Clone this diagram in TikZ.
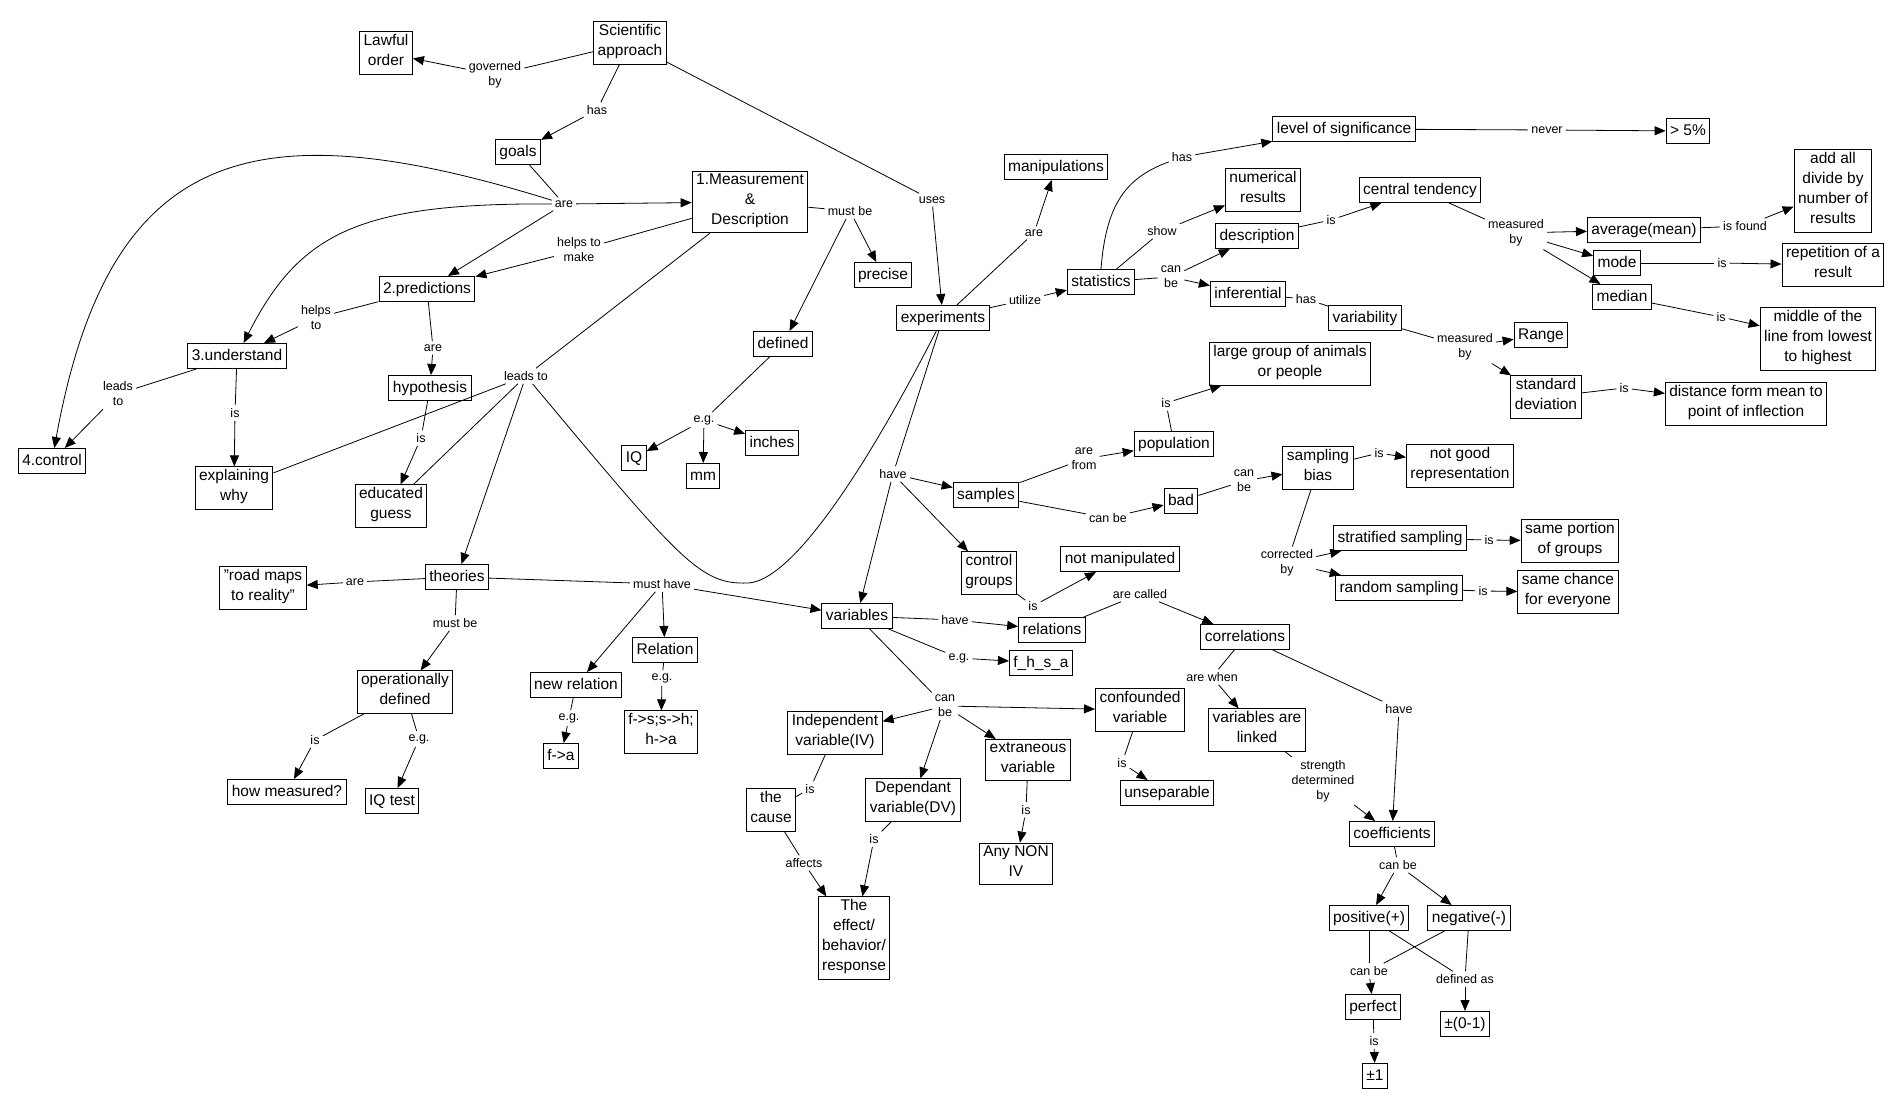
\documentclass[tikz,border=0pt]{standalone}
\usepackage{fontspec}
\setmainfont{Liberation Sans}
\usepackage{tikz}
\usetikzlibrary{arrows.meta}

\newcommand{\conceptfont}{\fontsize{15.5}{20}\selectfont}
\newcommand{\linkfont}{\fontsize{12.5}{15}\selectfont}

\begin{document}
\begin{tikzpicture}[
    x=1pt, y=-1pt,
    concept/.style={rectangle, draw, line width=1pt, align=center, font=\conceptfont, inner xsep=4pt, inner ysep=2.5pt, execute at begin node=\strut, execute at end node=\strut},
    link/.style={align=center, font=\linkfont, inner sep=3pt},
    line/.style={draw, line width=0.8pt},
    arrow/.style={draw, line width=0.8pt, -{Triangle[length=11pt,width=9pt]}}
]
    \fill [white] (0,0) rectangle (1899,1108);
    \useasboundingbox (0,0) rectangle (1899,1108);

    % --- Goals side ---
    \node [concept] (sci_approach) at (630,43) {Scientific\\approach};
    \node [concept] (lawful_order) at (386,53) {Lawful\\order};
    \node [concept] (goals) at (518,152) {goals};
    \node [concept] (measurement) at (750,202) {1.Measurement\\\&\\Description};
    \node [concept] (predictions) at (427,289) {2.predictions};
    \node [concept] (understand) at (237,356) {3.understand};
    \node [concept] (control) at (52,461) {4.control};
    \node [concept] (hypothesis) at (430,388) {hypothesis};
    \node [concept] (explaining) at (234,488) {explaining\\why};
    \node [concept] (educated_guess) at (391,506) {educated\\guess};
    \node [concept] (precise) at (883,275) {precise};
    \node [concept] (defined) at (783,344) {defined};
    \node [concept] (iq) at (634,458) {IQ};
    \node [concept] (mm) at (703,476) {mm};
    \node [concept] (inches) at (772,443) {inches};

    % --- Theories ---
    \node [concept] (theories) at (457,577) {theories};
    \node [concept] (road_maps) at (263,588) {"road maps\\to reality"};
    \node [concept] (op_defined) at (405,692) {operationally\\defined};
    \node [concept] (how_measured) at (287,792) {how measured?};
    \node [concept] (iq_test) at (392,801) {IQ test};
    \node [concept] (new_relation) at (576,685) {new relation};
    \node [concept] (relation) at (665,650) {Relation};
    \node [concept] (f_a) at (561,756) {f->a};
    \node [concept] (f_s_h_a) at (661,732) {f->s;s->h;\\h->a};

    % --- Experiments and statistics ---
    \node [concept] (experiments) at (943,318) {experiments};
    \node [concept] (manipulations) at (1056,167) {manipulations};
    \node [concept] (statistics) at (1101,282) {statistics};
    \node [concept] (level_sig) at (1344,129) {level of significance};
    \node [concept] (five_pct) at (1688,131) {> 5\%};
    \node [concept] (numerical) at (1263,190) {numerical\\results};
    \node [concept] (description) at (1257,236) {description};
    \node [concept] (central_tend) at (1420,190) {central tendency};
    \node [concept] (inferential) at (1248,294) {inferential};
    \node [concept] (variability) at (1365,318) {variability};
    \node [concept] (average) at (1644,230) {average(mean)};
    \node [concept] (add_all) at (1833,191) {add all\\divide by\\number of\\results};
    \node [concept] (mode) at (1617,263) {mode};
    \node [concept] (repetition) at (1833,265) {repetition of a\\result};
    \node [concept] (median) at (1622,297) {median};
    \node [concept] (middle) at (1818,339) {middle of the\\line from lowest\\to highest};
    \node [concept] (range) at (1541,335) {Range};
    \node [concept] (std_dev) at (1546,397) {standard\\deviation};
    \node [concept] (distance) at (1746,404) {distance form mean to\\point of inflection};

    % --- Samples ---
    \node [concept] (large_group) at (1290,364) {large group of animals\\or people};
    \node [concept] (population) at (1174,444) {population};
    \node [concept] (samples) at (986,495) {samples};
    \node [concept] (bad) at (1181,501) {bad};
    \node [concept] (sampling_bias) at (1318,468) {sampling\\bias};
    \node [concept] (not_good) at (1460,466) {not good\\representation};
    \node [concept] (stratified) at (1400,538) {stratified sampling};
    \node [concept] (random_s) at (1399,588) {random sampling};
    \node [concept] (same_portion) at (1570,541) {same portion\\of groups};
    \node [concept] (same_chance) at (1568,592) {same chance\\for everyone};
    \node [concept] (control_groups) at (989,573) {control\\groups};
    \node [concept] (not_manip) at (1120,559) {not manipulated};

    % --- Variables ---
    \node [concept] (variables) at (857,616) {variables};
    \node [concept] (relations) at (1052,630) {relations};
    \node [concept] (correlations) at (1245,637) {correlations};
    \node [concept] (f_h_s_a) at (1041,663) {f\_h\_s\_a};
    \node [concept] (indep_var) at (835,733) {Independent\\variable(IV)};
    \node [concept] (dep_var) at (913,800) {Dependant\\variable(DV)};
    \node [concept] (the_cause) at (771,810) {the\\cause};
    \node [concept] (effect) at (854,938) {The\\effect/\\behavior/\\response};
    \node [concept] (confounded) at (1140,710) {confounded\\variable};
    \node [concept] (unseparable) at (1167,793) {unseparable};
    \node [concept] (extraneous) at (1028,760) {extraneous\\variable};
    \node [concept] (any_non_iv) at (1016,864) {Any NON\\IV};
    \node [concept] (vars_linked) at (1257,730) {variables are\\linked};
    \node [concept] (coefficients) at (1392,834) {coefficients};
    \node [concept] (positive) at (1369,918) {positive(+)};
    \node [concept] (negative) at (1469,918) {negative(-)};
    \node [concept] (perfect) at (1373,1007) {perfect};
    \node [concept] (plus_minus_one) at (1375,1076) {±1};
    \node [concept] (plus_minus_range) at (1465,1024) {±(0-1)};

    % --- Linking phrases ---
    \node [link] (governed_by) at (495,75) {governed\\by};
    \node [link] (has_goals) at (597,110) {has};
    \node [link] (uses) at (932,200) {uses};
    \node [link] (are_goals) at (564,204) {are};
    \node [link] (helps_make) at (579,250) {helps to\\make};
    \node [link] (must_be_meas) at (850,211) {must be};
    \node [link] (helps_to) at (316,318) {helps\\to};
    \node [link] (are_pred) at (433,348) {are};
    \node [link] (leads_to_ctrl) at (118,394) {leads\\to};
    \node [link] (is_underst) at (235,413) {is};
    \node [link] (is_hyp) at (421,438) {is};
    \node [link] (leads_to) at (526,376) {leads to};
    \node [link] (eg_defined) at (704,420) {e.g.};
    \node [link] (are_theories) at (355,582) {are};
    \node [link] (must_be_th) at (455,623) {must be};
    \node [link] (must_have) at (662,584) {must have};
    \node [link] (is_op) at (315,740) {is};
    \node [link] (eg_op) at (419,739) {e.g.};
    \node [link] (eg_newrel) at (569,718) {e.g.};
    \node [link] (eg_rel) at (662,678) {e.g.};
    \node [link] (have_exp) at (893,474) {have};
    \node [link] (are_exp) at (1034,233) {are};
    \node [link] (utilize) at (1025,300) {utilize};
    \node [link] (has_stat) at (1182,157) {has};
    \node [link] (show) at (1162,231) {show};
    \node [link] (can_be_stat) at (1171,277) {can\\be};
    \node [link] (never) at (1547,130) {never};
    \node [link] (is_desc) at (1331,220) {is};
    \node [link] (measured_ct) at (1516,233) {measured\\by};
    \node [link] (is_found) at (1745,226) {is found};
    \node [link] (is_mode) at (1722,263) {is};
    \node [link] (is_median) at (1721,317) {is};
    \node [link] (has_inf) at (1306,299) {has};
    \node [link] (measured_var) at (1465,347) {measured\\by};
    \node [link] (is_std) at (1624,388) {is};
    \node [link] (is_pop) at (1166,403) {is};
    \node [link] (are_from) at (1084,459) {are\\from};
    \node [link] (can_be_samp) at (1108,518) {can be};
    \node [link] (can_be_bad) at (1244,481) {can\\be};
    \node [link] (is_bias) at (1379,453) {is};
    \node [link] (corrected_by) at (1287,563) {corrected\\by};
    \node [link] (is_strat) at (1489,540) {is};
    \node [link] (is_random) at (1483,591) {is};
    \node [link] (is_ctrl) at (1033,606) {is};
    \node [link] (have_var) at (955,620) {have};
    \node [link] (are_called) at (1140,594) {are called};
    \node [link] (eg_var) at (959,658) {e.g.};
    \node [link] (can_be_var) at (945,706) {can\\be};
    \node [link] (are_when) at (1212,677) {are when};
    \node [link] (have_corr) at (1399,709) {have};
    \node [link] (strength) at (1323,781) {strength\\determined\\by};
    \node [link] (is_iv) at (810,789) {is};
    \node [link] (is_dv) at (874,839) {is};
    \node [link] (affects) at (804,863) {affects};
    \node [link] (is_extr) at (1026,810) {is};
    \node [link] (is_conf) at (1122,763) {is};
    \node [link] (can_be_coef) at (1398,865) {can be};
    \node [link] (can_be_pos) at (1369,971) {can be};
    \node [link] (defined_as) at (1465,979) {defined as};
    \node [link] (is_perfect) at (1374,1041) {is};

    % Paths: scientific approach and goals
    \path [line] (sci_approach) -- (governed_by);
    \path [arrow] (governed_by) -- (lawful_order);
    \path [line] (sci_approach) -- (has_goals);
    \path [arrow] (has_goals) -- (goals);
    \path [line] (sci_approach) -- (uses);
    \path [arrow] (uses) -- (experiments);
    \path [line] (goals) -- (are_goals);
    \path [arrow] (are_goals) -- (measurement);
    \path [arrow] (are_goals) -- (predictions);
    \path [arrow] (are_goals) .. controls (360,203) and (300,232) .. (understand);
    \path [arrow] (are_goals) .. controls (260,110) and (110,140) .. (control);
    \path [line] (measurement) -- (helps_make);
    \path [arrow] (helps_make) -- (predictions);
    \path [line] (measurement) -- (must_be_meas);
    \path [arrow] (must_be_meas) -- (precise);
    \path [arrow] (must_be_meas) -- (defined);
    \path [line] (defined) -- (eg_defined);
    \path [arrow] (eg_defined) -- (iq);
    \path [arrow] (eg_defined) -- (mm);
    \path [arrow] (eg_defined) -- (inches);
    \path [line] (measurement) -- (leads_to);
    \path [line] (leads_to) -- (explaining);
    \path [line] (leads_to) -- (educated_guess);
    \path [arrow] (leads_to) -- (theories);
    \path [line] (leads_to) .. controls (680,560) and (700,585) .. (748,583) .. controls (790,581) and (860,480) .. (experiments);
    \path [line] (predictions) -- (helps_to);
    \path [arrow] (helps_to) -- (understand);
    \path [line] (predictions) -- (are_pred);
    \path [arrow] (are_pred) -- (hypothesis);
    \path [line] (understand) -- (leads_to_ctrl);
    \path [arrow] (leads_to_ctrl) -- (control);
    \path [line] (understand) -- (is_underst);
    \path [arrow] (is_underst) -- (explaining);
    \path [line] (hypothesis) -- (is_hyp);
    \path [arrow] (is_hyp) -- (educated_guess);

    % Paths: theories
    \path [line] (theories) -- (are_theories);
    \path [arrow] (are_theories) -- (road_maps);
    \path [line] (theories) -- (must_be_th);
    \path [arrow] (must_be_th) -- (op_defined);
    \path [line] (theories) -- (must_have);
    \path [arrow] (must_have) -- (variables);
    \path [arrow] (must_have) -- (relation);
    \path [arrow] (must_have) -- (new_relation);
    \path [line] (op_defined) -- (is_op);
    \path [arrow] (is_op) -- (how_measured);
    \path [line] (op_defined) -- (eg_op);
    \path [arrow] (eg_op) -- (iq_test);
    \path [line] (new_relation) -- (eg_newrel);
    \path [arrow] (eg_newrel) -- (f_a);
    \path [line] (relation) -- (eg_rel);
    \path [arrow] (eg_rel) -- (f_s_h_a);

    % Paths: experiments and statistics
    \path [line] (experiments) -- (are_exp);
    \path [arrow] (are_exp) -- (manipulations);
    \path [line] (experiments) -- (utilize);
    \path [arrow] (utilize) -- (statistics);
    \path [line] (experiments) -- (have_exp);
    \path [arrow] (have_exp) -- (samples);
    \path [arrow] (have_exp) -- (control_groups);
    \path [arrow] (have_exp) -- (variables);
    \path [line] (statistics.north) .. controls (1106,205) and (1125,178) .. (has_stat);
    \path [arrow] (has_stat) -- (level_sig);
    \path [line] (level_sig) -- (never);
    \path [arrow] (never) -- (five_pct);
    \path [line] (statistics) -- (show);
    \path [arrow] (show) -- (numerical);
    \path [line] (statistics) -- (can_be_stat);
    \path [arrow] (can_be_stat) -- (description);
    \path [arrow] (can_be_stat) -- (inferential);
    \path [line] (description) -- (is_desc);
    \path [arrow] (is_desc) -- (central_tend);
    \path [line] (central_tend) -- (measured_ct);
    \path [arrow] (measured_ct) -- (average);
    \path [arrow] (measured_ct) -- (mode);
    \path [arrow] (measured_ct) -- (median);
    \path [line] (average) -- (is_found);
    \path [arrow] (is_found) -- (add_all);
    \path [line] (mode) -- (is_mode);
    \path [arrow] (is_mode) -- (repetition);
    \path [line] (median) -- (is_median);
    \path [arrow] (is_median) -- (middle);
    \path [line] (inferential) -- (has_inf);
    \path [line] (has_inf) -- (variability);
    \path [line] (variability) -- (measured_var);
    \path [arrow] (measured_var) -- (range);
    \path [arrow] (measured_var) -- (std_dev);
    \path [line] (std_dev) -- (is_std);
    \path [arrow] (is_std) -- (distance);

    % Paths: samples
    \path [line] (samples) -- (are_from);
    \path [arrow] (are_from) -- (population);
    \path [line] (population) -- (is_pop);
    \path [arrow] (is_pop) -- (large_group);
    \path [line] (samples) -- (can_be_samp);
    \path [arrow] (can_be_samp) -- (bad);
    \path [line] (bad) -- (can_be_bad);
    \path [arrow] (can_be_bad) -- (sampling_bias);
    \path [line] (sampling_bias) -- (is_bias);
    \path [arrow] (is_bias) -- (not_good);
    \path [line] (sampling_bias) -- (corrected_by);
    \path [arrow] (corrected_by) -- (stratified);
    \path [arrow] (corrected_by) -- (random_s);
    \path [line] (stratified) -- (is_strat);
    \path [arrow] (is_strat) -- (same_portion);
    \path [line] (random_s) -- (is_random);
    \path [arrow] (is_random) -- (same_chance);

    % Paths: variables
    \path [line] (control_groups) -- (is_ctrl);
    \path [arrow] (is_ctrl) -- (not_manip);
    \path [line] (variables) -- (have_var);
    \path [arrow] (have_var) -- (relations);
    \path [line] (relations) -- (are_called);
    \path [arrow] (are_called) -- (correlations);
    \path [line] (variables) -- (eg_var);
    \path [arrow] (eg_var) -- (f_h_s_a);
    \path [line] (variables) -- (can_be_var);
    \path [arrow] (can_be_var) -- (indep_var);
    \path [arrow] (can_be_var) -- (dep_var);
    \path [arrow] (can_be_var) -- (confounded);
    \path [arrow] (can_be_var) -- (extraneous);
    \path [line] (indep_var) -- (is_iv);
    \path [line] (is_iv) -- (the_cause);
    \path [line] (the_cause) -- (affects);
    \path [arrow] (affects) -- (effect);
    \path [line] (dep_var) -- (is_dv);
    \path [arrow] (is_dv) -- (effect);
    \path [line] (extraneous) -- (is_extr);
    \path [arrow] (is_extr) -- (any_non_iv);
    \path [line] (confounded) -- (is_conf);
    \path [arrow] (is_conf) -- (unseparable);

    % Paths: correlations
    \path [line] (correlations) -- (are_when);
    \path [arrow] (are_when) -- (vars_linked);
    \path [line] (correlations) -- (have_corr);
    \path [arrow] (have_corr) -- (coefficients);
    \path [line] (vars_linked) -- (strength);
    \path [arrow] (strength) -- (coefficients);
    \path [line] (coefficients) -- (can_be_coef);
    \path [arrow] (can_be_coef) -- (positive);
    \path [arrow] (can_be_coef) -- (negative);
    \path [line] (positive) -- (can_be_pos);
    \path [line] (negative) -- (can_be_pos);
    \path [arrow] (can_be_pos) -- (perfect);
    \path [line] (positive) -- (defined_as);
    \path [line] (negative) -- (defined_as);
    \path [arrow] (defined_as) -- (plus_minus_range);
    \path [line] (perfect) -- (is_perfect);
    \path [arrow] (is_perfect) -- (plus_minus_one);

\end{tikzpicture}
\end{document}
